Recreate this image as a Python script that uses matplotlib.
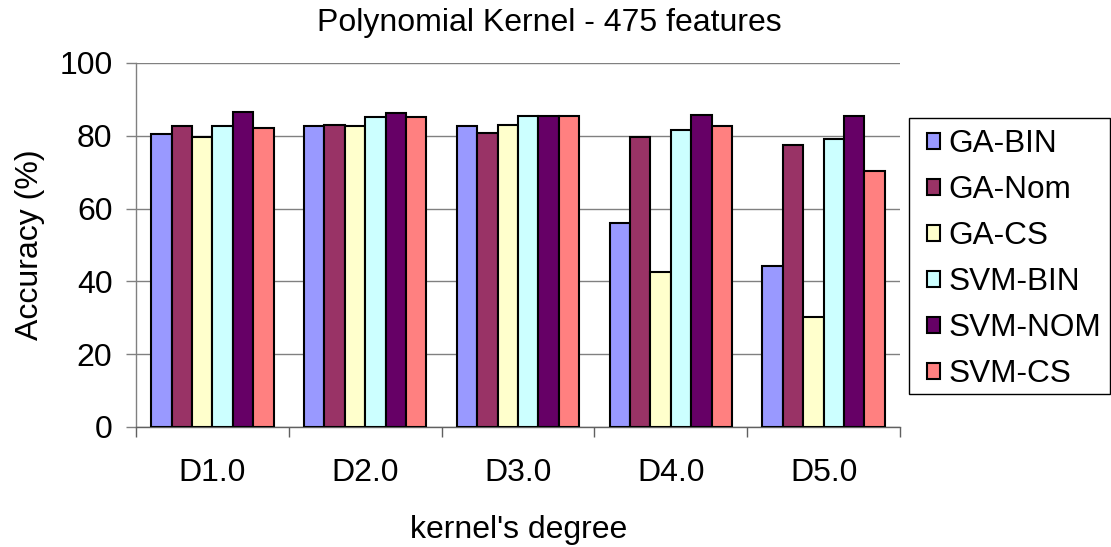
import numpy as np
import matplotlib
matplotlib.use("Agg")
import matplotlib.pyplot as plt
from matplotlib.patches import Rectangle

plt.rcParams['font.family'] = ['Liberation Sans', 'DejaVu Sans']

categories = ["D1.0", "D2.0", "D3.0", "D4.0", "D5.0"]
series_names = ["GA-BIN", "GA-Nom", "GA-CS", "SVM-BIN", "SVM-NOM", "SVM-CS"]
ga_bin = [80.6, 82.8, 82.6, 56.0, 44.1]
ga_nom = [82.7, 83.1, 80.7, 79.7, 77.5]
ga_cs = [79.7, 82.8, 83.0, 42.7, 30.3]
svm_bin = [82.7, 85.2, 85.4, 81.7, 79.1]
svm_nom = [86.5, 86.3, 85.4, 85.8, 85.5]
svm_cs = [82.2, 85.2, 85.4, 82.8, 70.4]
series_values = [ga_bin, ga_nom, ga_cs, svm_bin, svm_nom, svm_cs]
colors = ["#9999FF", "#993366", "#FFFFCC", "#CCFFFF", "#660066", "#FF8080"]
y_ticks = [0, 20, 40, 60, 80, 100]

W, H = 1111, 547
FS = 23
fig = plt.figure(figsize=(W / 100, H / 100), dpi=100)
ax = fig.add_axes([136 / W, 1 - 427 / H, (900 - 136) / W, (427 - 63) / H])

n = len(series_names)
group_w = 0.8
bar_w = group_w / n
centers = np.arange(len(categories)) + 0.5
for i, (name, vals, col) in enumerate(zip(series_names, series_values, colors)):
    xs = centers - group_w / 2 + bar_w * (i + 0.5)
    ax.bar(xs, vals, width=bar_w, color=col, edgecolor="black",
           linewidth=1.5, label=name, zorder=3)

ax.set_xlim(0, len(categories))
ax.set_ylim(0, 100)
ax.set_yticks(y_ticks)
ax.set_yticklabels([str(t) for t in y_ticks], fontsize=FS)
ax.yaxis.grid(True, color="#808080", linewidth=1.0, zorder=0)
ax.tick_params(axis="y", length=7, width=1.0, color="#808080", pad=10)

ax.set_xticks(centers)
ax.set_xticklabels(categories, fontsize=FS)
ax.set_xticks(np.arange(len(categories) + 1), minor=True)
ax.tick_params(axis="x", which="major", length=0, pad=22)
ax.tick_params(axis="x", which="minor", length=7, width=1.0, color="#606060")

for side in ("top", "right"):
    ax.spines[side].set_visible(False)
ax.spines["left"].set_color("#808080")
ax.spines["bottom"].set_color("#606060")
ax.spines["left"].set_linewidth(1.0)
ax.spines["bottom"].set_linewidth(1.0)

fig.text(549 / W, 1 - 31 / H, "Polynomial Kernel - 475 features",
         ha="center", va="baseline", fontsize=FS)
fig.text(519 / W, 1 - 538 / H, "kernel's degree",
         ha="center", va="baseline", fontsize=FS)
fig.text(30 / W, 1 - 245 / H, "Accuracy (%)", rotation=90,
         ha="center", va="center", fontsize=FS)

# legend frame drawn as its own rectangle, entries placed inside it
fig.patches.append(Rectangle((909 / W, 1 - 394 / H), (1110 - 909) / W, (394 - 118) / H,
                             transform=fig.transFigure, facecolor="white",
                             edgecolor="black", linewidth=1.0, zorder=1))
leg = fig.legend(loc="upper left", bbox_to_anchor=(927 / W, 1 - 129 / H),
                 bbox_transform=fig.transFigure, fontsize=22.7,
                 frameon=False, handlelength=0.42, handleheight=0.42,
                 handletextpad=0.25, labelspacing=0.51, borderpad=0,
                 borderaxespad=0)
leg.set_zorder(2)

fig.savefig("out.png", dpi=100)
